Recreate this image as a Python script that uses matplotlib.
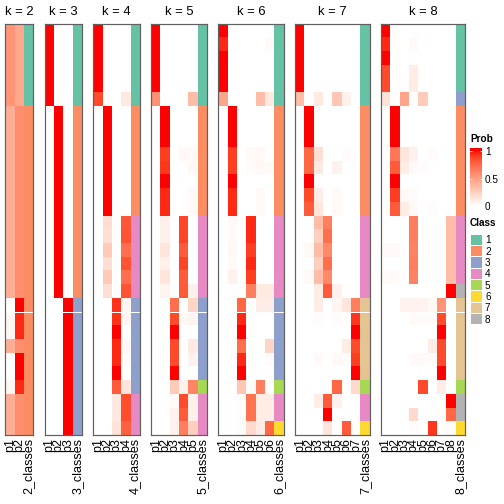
import numpy as np
import matplotlib.pyplot as plt
from matplotlib.colors import ListedColormap, BoundaryNorm

plt.rcParams['font.family'] = ['Liberation Sans', 'DejaVu Sans']

# membership probabilities, one row per sample, one column per class
prob_k2 = [
    [0.55, 0.45], [0.55, 0.45], [0.55, 0.45], [0.55, 0.45], [0.55, 0.45], [0.55, 0.45],
    [0.42, 0.58], [0.42, 0.58], [0.42, 0.58], [0.42, 0.58], [0.42, 0.58], [0.42, 0.58],
    [0.42, 0.58], [0.42, 0.58], [0.42, 0.58], [0.42, 0.58], [0.42, 0.58], [0.42, 0.58],
    [0.42, 0.58], [0.42, 0.58], [0.00, 1.00], [0.05, 0.95], [0.05, 0.95], [0.42, 0.58],
    [0.00, 1.00], [0.00, 1.00], [0.05, 0.95], [0.42, 0.58], [0.42, 0.58], [0.42, 0.58],
]
prob_k3 = [
    [1, 0, 0], [1, 0, 0], [1, 0, 0], [1, 0, 0], [1, 0, 0], [1, 0, 0],
    [0, 1, 0], [0, 1, 0], [0, 1, 0], [0, 1, 0], [0, 1, 0], [0, 1, 0], [0, 1, 0],
    [0, 1, 0], [0, 1, 0], [0, 1, 0], [0, 1, 0], [0, 1, 0], [0, 1, 0], [0, 1, 0],
    [0, 0, 1], [0, 0, 1], [0, 0, 1], [0, 0, 1], [0, 0, 1], [0, 0, 1], [0, 0, 1],
    [0, 0, 1], [0, 0, 1], [0, 0, 1],
]
prob_k4 = [
    [1, 0, 0, 0], [1, 0, 0, 0], [1, 0, 0, 0], [1, 0, 0, 0], [1, 0, 0, 0],
    [0.86, 0, 0, 0.12],
    [0, 1, 0, 0], [0, 1, 0, 0], [0, 1, 0, 0], [0, 1, 0, 0], [0, 1, 0, 0],
    [0, 1, 0, 0], [0, 1, 0, 0], [0, 1, 0, 0],
    [0, 0.18, 0, 0.82], [0, 0.17, 0, 0.83], [0, 0.28, 0, 0.72],
    [0, 0.17, 0, 0.83], [0, 0.28, 0, 0.72], [0, 0.17, 0, 0.83],
    [0, 0, 0.93, 0.05], [0, 0, 0.93, 0.05], [0, 0, 1, 0], [0, 0, 0.95, 0.04],
    [0, 0, 0.95, 0.02], [0, 0, 1, 0], [0, 0, 0.8, 0.14],
    [0, 0, 0.12, 0.85], [0, 0, 0.12, 0.85], [0, 0, 0.15, 0.78],
]
prob_k5 = [
    [1, 0, 0, 0, 0], [1, 0, 0, 0, 0], [1, 0, 0, 0, 0], [1, 0, 0, 0, 0], [1, 0, 0, 0, 0],
    [0.57, 0, 0, 0, 0.35],
    [0, 1, 0, 0, 0], [0, 1, 0, 0, 0], [0, 1, 0, 0, 0],
    [0, 0.9, 0, 0.04, 0.03], [0, 0.92, 0, 0, 0.04], [0, 1, 0, 0, 0],
    [0, 0.95, 0, 0, 0.03], [0, 0.95, 0, 0, 0.03],
    [0, 0.08, 0, 0.88, 0], [0, 0.08, 0, 0.88, 0], [0, 0.14, 0, 0.8, 0],
    [0, 0.08, 0, 0.88, 0], [0, 0.14, 0, 0.8, 0], [0, 0.06, 0, 0.8, 0.08],
    [0, 0, 0.72, 0, 0.22], [0, 0, 0.86, 0.04, 0.06], [0, 0, 1, 0, 0],
    [0, 0, 0.86, 0, 0.12], [0, 0, 0.86, 0, 0.07], [0, 0, 1, 0, 0],
    [0, 0, 0.28, 0.07, 0.62],
    [0, 0, 0.03, 0.86, 0.08], [0, 0, 0.07, 0.8, 0.08], [0, 0, 0.07, 0.65, 0.25],
]
prob_k6 = [
    [1, 0, 0, 0, 0, 0], [0.95, 0, 0, 0, 0, 0.03], [1, 0, 0, 0, 0, 0],
    [1, 0, 0, 0, 0, 0], [1, 0, 0, 0, 0, 0], [0.47, 0, 0, 0, 0.35, 0.12],
    [0, 1, 0, 0, 0, 0], [0, 1, 0, 0, 0, 0], [0, 1, 0, 0, 0, 0],
    [0, 0.9, 0, 0.03, 0.04, 0], [0, 0.9, 0, 0.02, 0.04, 0.03], [0, 1, 0, 0, 0, 0],
    [0, 0.95, 0, 0, 0.03, 0], [0, 0.95, 0, 0, 0.03, 0],
    [0, 0.03, 0, 0.95, 0, 0], [0, 0.03, 0, 0.95, 0, 0], [0, 0.04, 0, 0.9, 0, 0],
    [0, 0.03, 0, 0.95, 0, 0], [0, 0.07, 0, 0.9, 0, 0], [0, 0, 0, 0.65, 0.11, 0.11],
    [0, 0, 0.75, 0, 0.1, 0.1], [0, 0, 0.95, 0, 0, 0], [0, 0, 1, 0, 0, 0],
    [0, 0, 0.72, 0, 0, 0.22], [0, 0, 0.95, 0, 0, 0.02], [0, 0, 1, 0, 0, 0],
    [0, 0, 0.3, 0.02, 0.65, 0],
    [0, 0, 0.02, 0.7, 0.1, 0.1], [0, 0, 0.02, 0.7, 0.1, 0.1], [0, 0, 0.02, 0.2, 0.1, 0.75],
]
prob_k7 = [
    [1, 0, 0, 0, 0, 0, 0], [1, 0, 0, 0, 0, 0, 0], [1, 0, 0, 0, 0, 0, 0],
    [1, 0, 0, 0, 0, 0, 0], [1, 0, 0, 0, 0, 0, 0], [0.35, 0, 0.12, 0, 0.3, 0.07, 0],
    [0, 1, 0, 0, 0, 0, 0], [0, 1, 0, 0, 0, 0, 0], [0, 1, 0, 0, 0, 0, 0],
    [0, 0.75, 0.17, 0, 0, 0.02, 0], [0, 0.75, 0.12, 0, 0.07, 0, 0], [0, 1, 0, 0, 0, 0, 0],
    [0, 0.86, 0.09, 0, 0.03, 0, 0], [0, 0.8, 0.14, 0, 0.03, 0, 0],
    [0, 0, 0.35, 0.65, 0, 0, 0], [0, 0, 0.25, 0.72, 0, 0, 0], [0, 0.03, 0.35, 0.6, 0, 0, 0],
    [0, 0, 0.25, 0.72, 0, 0, 0], [0, 0.03, 0.35, 0.6, 0, 0, 0], [0, 0, 0.1, 0.8, 0.08, 0, 0],
    [0, 0, 0.1, 0, 0.05, 0.14, 0.65], [0, 0, 0.02, 0, 0.02, 0, 0.92], [0, 0, 0, 0, 0, 0, 1],
    [0, 0, 0, 0, 0, 0.1, 0.86], [0, 0, 0.03, 0, 0.03, 0.02, 0.9], [0, 0, 0, 0, 0, 0, 1],
    [0, 0, 0, 0, 0.75, 0, 0.2],
    [0, 0, 0.1, 0.8, 0.07, 0, 0], [0, 0, 0, 1, 0, 0, 0], [0, 0, 0, 0.14, 0, 0.8, 0],
]
prob_k8 = [
    [1, 0, 0, 0, 0, 0, 0, 0], [0.95, 0, 0, 0.03, 0, 0, 0, 0], [1, 0, 0, 0, 0, 0, 0, 0],
    [0.86, 0, 0, 0.1, 0, 0, 0, 0], [0.86, 0, 0, 0.1, 0, 0, 0, 0],
    [0.15, 0, 0.47, 0, 0.27, 0, 0, 0],
    [0, 1, 0, 0, 0, 0, 0, 0], [0, 1, 0, 0, 0, 0, 0, 0], [0, 1, 0, 0, 0, 0, 0, 0],
    [0, 0.68, 0.14, 0.07, 0, 0.02, 0, 0], [0, 0.8, 0.1, 0.03, 0.02, 0, 0, 0],
    [0, 1, 0, 0, 0, 0, 0, 0], [0, 0.9, 0.03, 0.02, 0, 0, 0, 0],
    [0, 0.8, 0.1, 0.03, 0, 0.02, 0, 0],
    [0, 0, 0, 0.65, 0, 0, 0, 0.35], [0, 0, 0, 0.65, 0, 0, 0, 0.35],
    [0.03, 0.03, 0, 0.63, 0, 0, 0, 0.35], [0, 0, 0, 0.65, 0, 0, 0, 0.35],
    [0.03, 0.02, 0, 0.63, 0, 0, 0, 0.35], [0, 0, 0, 0, 0, 0, 0, 1],
    [0, 0, 0.07, 0.07, 0.07, 0.04, 0.55, 0], [0, 0, 0, 0.03, 0.02, 0.02, 0.86, 0],
    [0, 0, 0, 0, 0, 0, 1, 0], [0, 0, 0, 0, 0, 0.1, 0.86, 0],
    [0, 0, 0, 0.03, 0.03, 0.02, 0.86, 0], [0, 0, 0, 0, 0, 0, 1, 0],
    [0, 0, 0, 0, 0.86, 0, 0.1, 0],
    [0, 0, 0, 0, 0, 0, 0, 1], [0, 0, 0, 0.2, 0, 0, 0, 0.75], [0, 0, 0, 0.02, 0, 0.92, 0, 0.02],
]

# predicted class per sample
class_k2 = [1, 1, 1, 1, 1, 1, 2, 2, 2, 2, 2, 2, 2, 2, 2, 2, 2, 2, 2, 2, 2, 2, 2, 2, 2, 2, 2, 2, 2, 2]
class_k3 = [1, 1, 1, 1, 1, 1, 2, 2, 2, 2, 2, 2, 2, 2, 2, 2, 2, 2, 2, 2, 3, 3, 3, 3, 3, 3, 3, 3, 3, 3]
class_k4 = [1, 1, 1, 1, 1, 1, 2, 2, 2, 2, 2, 2, 2, 2, 4, 4, 4, 4, 4, 4, 3, 3, 3, 3, 3, 3, 3, 4, 4, 4]
class_k5 = [1, 1, 1, 1, 1, 1, 2, 2, 2, 2, 2, 2, 2, 2, 4, 4, 4, 4, 4, 4, 3, 3, 3, 3, 3, 3, 5, 4, 4, 4]
class_k6 = [1, 1, 1, 1, 1, 1, 2, 2, 2, 2, 2, 2, 2, 2, 4, 4, 4, 4, 4, 4, 3, 3, 3, 3, 3, 3, 5, 4, 4, 6]
class_k7 = [1, 1, 1, 1, 1, 1, 2, 2, 2, 2, 2, 2, 2, 2, 4, 4, 4, 4, 4, 4, 7, 7, 7, 7, 7, 7, 5, 4, 4, 6]
class_k8 = [1, 1, 1, 1, 1, 3, 2, 2, 2, 2, 2, 2, 2, 2, 4, 4, 4, 4, 4, 8, 7, 7, 7, 7, 7, 7, 5, 8, 8, 6]

ks = [2, 3, 4, 5, 6, 7, 8]
probs = [prob_k2, prob_k3, prob_k4, prob_k5, prob_k6, prob_k7, prob_k8]
classes = [class_k2, class_k3, class_k4, class_k5, class_k6, class_k7, class_k8]
class_colors = ['#66C2A5', '#FC8D62', '#8DA0CB', '#E78AC3',
                '#A6D854', '#FFD92F', '#E5C494', '#B3B3B3']


def white_red_lab(n=256):
    # white -> red, interpolated in LAB space
    t = np.linspace(0, 1, n)
    L = 100 + (53.24 - 100) * t
    a = 80.09 * t
    b = 67.20 * t
    fy = (L + 16) / 116
    fx = fy + a / 500
    fz = fy - b / 200

    def finv(f):
        return np.where(f > 6 / 29, f ** 3, 3 * (6 / 29) ** 2 * (f - 4 / 29))

    xyz = np.stack([0.95047 * finv(fx), finv(fy), 1.08883 * finv(fz)], axis=1)
    M = np.array([[3.2406, -1.5372, -0.4986],
                  [-0.9689, 1.8758, 0.0415],
                  [0.0557, -0.2040, 1.0570]])
    rgb = np.clip(xyz @ M.T, 0, 1)
    rgb = np.where(rgb <= 0.0031308, 12.92 * rgb, 1.055 * rgb ** (1 / 2.4) - 0.055)
    return ListedColormap(np.clip(rgb, 0, 1))


prob_cmap = white_red_lab()
class_cmap = ListedColormap(class_colors)
class_norm = BoundaryNorm(np.arange(0.5, 9.5, 1), 8)

W = H = 504.0
fig = plt.figure(figsize=(7, 7), dpi=72)

col_w = 9.333
gap = 11.28
top, bottom = 23.5, 435.0
n_rows = 30
x0 = 5.3
for k, p, c in zip(ks, probs, classes):
    width = (k + 1) * col_w
    ax = fig.add_axes([x0 / W, 1 - bottom / H, width / W, (bottom - top) / H])
    ax.pcolormesh(np.arange(k + 1), np.arange(n_rows + 1), np.array(p),
                  cmap=prob_cmap, vmin=0, vmax=1)
    ax.pcolormesh([k, k + 1], np.arange(n_rows + 1), np.array(c)[:, None],
                  cmap=class_cmap, norm=class_norm)
    ax.axhline(21, color='white', lw=1)
    ax.set_xlim(0, k + 1)
    ax.set_ylim(n_rows, 0)
    ax.set_yticks([])
    ax.set_xticks(np.arange(k + 1) + 0.5)
    ax.set_xticklabels(['p%d' % (i + 1) for i in range(k)] + ['%d_classes' % k],
                       rotation=90, fontsize=12.5)
    ax.tick_params(axis='x', length=0, pad=3)
    for s in ax.spines.values():
        s.set_color('#606060')
        s.set_linewidth(1.2)
    fig.text((x0 + width / 2) / W, 1 - 15 / H, 'k = %d' % k,
             ha='center', va='baseline', fontsize=13)
    x0 += width + gap

# probability legend
fig.text(470 / W, 1 - 139 / H, 'Prob', fontsize=10, fontweight='bold', va='center')
cax = fig.add_axes([470 / W, 1 - 209 / H, 12 / W, 61 / H])
grad = np.linspace(-0.05, 1.05, 200)
cax.pcolormesh([0, 1], grad, ((grad[:-1] + grad[1:]) / 2)[:, None],
               cmap=prob_cmap, vmin=0, vmax=1)
cax.set_ylim(-0.05, 1.05)
cax.set_xlim(0, 1)
cax.set_xticks([])
cax.set_yticks([0, 0.5, 1])
cax.set_yticklabels(['0', '0.5', '1'], fontsize=10)
cax.tick_params(axis='y', direction='in', colors='white', length=2,
                left=True, right=True, labelleft=False, labelright=True, pad=3)
for lab in cax.get_yticklabels():
    lab.set_color('black')
for s in cax.spines.values():
    s.set_visible(False)

# class legend
fig.text(470 / W, 1 - 223 / H, 'Class', fontsize=10, fontweight='bold', va='center')
lax = fig.add_axes([470 / W, 1 - 324.3 / H, 12 / W, 90.7 / H])
lax.pcolormesh([0, 1], np.arange(0.5, 9.5, 1), np.arange(1, 9)[:, None],
               cmap=class_cmap, norm=class_norm, edgecolors='white', linewidth=1)
lax.set_ylim(8.5, 0.5)
lax.set_xlim(0, 1)
lax.set_xticks([])
lax.set_yticks(np.arange(1, 9))
lax.set_yticklabels([str(i) for i in range(1, 9)], fontsize=10)
lax.tick_params(axis='y', length=0, left=False, right=False,
                labelleft=False, labelright=True, pad=3)
for s in lax.spines.values():
    s.set_visible(False)

fig.savefig('out.png', dpi=72)
